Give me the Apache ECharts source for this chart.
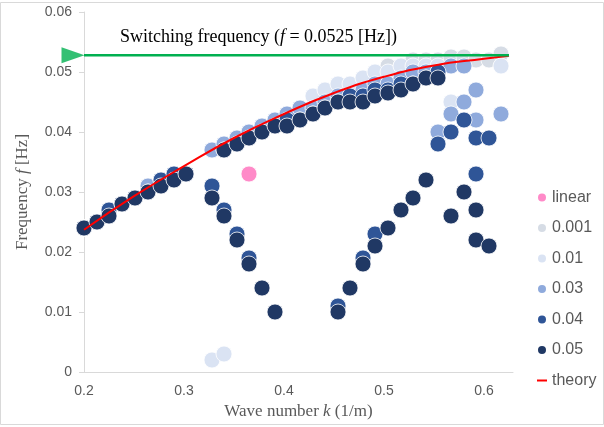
<!DOCTYPE html>
<html>
<head>
<meta charset="utf-8">
<script src="https://cdn.jsdelivr.net/npm/echarts@6/dist/echarts.min.js"></script>
<style>
  html, body { margin: 0; padding: 0; background: #fff; }
  #chart { width: 604px; height: 427px; }
</style>
</head>
<body>
<div id="chart"></div>
<script>
// [k (1/m), f (Hz)]
const linearPts = [[0.365, 0.033]];

const pts0001 = [
  [0.200, 0.024], [0.213, 0.025], [0.225, 0.026], [0.238, 0.028], [0.251, 0.029], [0.264, 0.031],
  [0.277, 0.032], [0.290, 0.033], [0.302, 0.033], [0.328, 0.037], [0.340, 0.038], [0.353, 0.039],
  [0.365, 0.040], [0.378, 0.041], [0.391, 0.042], [0.403, 0.043], [0.416, 0.044], [0.429, 0.046],
  [0.441, 0.047], [0.454, 0.048], [0.466, 0.048], [0.479, 0.049], [0.491, 0.050], [0.504, 0.051],
  [0.517, 0.051], [0.529, 0.052], [0.542, 0.052], [0.554, 0.052], [0.567, 0.0525], [0.580, 0.0525],
  [0.592, 0.052], [0.605, 0.052], [0.617, 0.053]
];

const pts001 = [
  [0.200, 0.024], [0.213, 0.025], [0.225, 0.026], [0.238, 0.028], [0.251, 0.029], [0.264, 0.031],
  [0.277, 0.032], [0.290, 0.033], [0.302, 0.033], [0.328, 0.037], [0.340, 0.038], [0.353, 0.039],
  [0.365, 0.040], [0.378, 0.041], [0.391, 0.042], [0.403, 0.043], [0.416, 0.044], [0.429, 0.046],
  [0.441, 0.047], [0.454, 0.048], [0.466, 0.048], [0.479, 0.049], [0.491, 0.050], [0.504, 0.050],
  [0.517, 0.051], [0.529, 0.051], [0.542, 0.051], [0.554, 0.051], [0.617, 0.051],
  [0.328, 0.002], [0.340, 0.003], [0.567, 0.045]
];

const pts003 = [
  [0.200, 0.024], [0.213, 0.025], [0.225, 0.026], [0.238, 0.028], [0.251, 0.029], [0.264, 0.031],
  [0.277, 0.032], [0.290, 0.033], [0.302, 0.033], [0.328, 0.037], [0.340, 0.038], [0.353, 0.039],
  [0.365, 0.040], [0.378, 0.041], [0.391, 0.042], [0.403, 0.043], [0.416, 0.044], [0.429, 0.044],
  [0.441, 0.045], [0.454, 0.046], [0.466, 0.046], [0.479, 0.047], [0.491, 0.048], [0.504, 0.048],
  [0.517, 0.049], [0.529, 0.050], [0.542, 0.050], [0.554, 0.050], [0.567, 0.051], [0.580, 0.051],
  [0.554, 0.040], [0.567, 0.043], [0.580, 0.045], [0.592, 0.047], [0.592, 0.042], [0.617, 0.043]
];

const pts004 = [
  [0.200, 0.024], [0.213, 0.025], [0.225, 0.027], [0.238, 0.028], [0.251, 0.029], [0.264, 0.030],
  [0.277, 0.032], [0.290, 0.033], [0.302, 0.033], [0.340, 0.037], [0.353, 0.038], [0.365, 0.039],
  [0.378, 0.040], [0.391, 0.041], [0.403, 0.042], [0.416, 0.042], [0.429, 0.043], [0.441, 0.044],
  [0.454, 0.045], [0.466, 0.046], [0.479, 0.046], [0.491, 0.047], [0.504, 0.047], [0.517, 0.048],
  [0.529, 0.048], [0.542, 0.049], [0.554, 0.050],
  [0.328, 0.031], [0.340, 0.027], [0.353, 0.023], [0.365, 0.019],
  [0.454, 0.011], [0.479, 0.019], [0.491, 0.023],
  [0.554, 0.038], [0.567, 0.040], [0.580, 0.042], [0.592, 0.039], [0.605, 0.039], [0.592, 0.033]
];

const pts005 = [
  [0.200, 0.024], [0.213, 0.025], [0.225, 0.026], [0.238, 0.028], [0.251, 0.029], [0.264, 0.030],
  [0.277, 0.031], [0.290, 0.032], [0.302, 0.033], [0.340, 0.037], [0.353, 0.038], [0.365, 0.039],
  [0.378, 0.040], [0.391, 0.041], [0.403, 0.041], [0.416, 0.042], [0.429, 0.043], [0.441, 0.044],
  [0.454, 0.045], [0.466, 0.045], [0.479, 0.045], [0.491, 0.046], [0.504, 0.0465], [0.517, 0.047],
  [0.529, 0.048], [0.542, 0.049], [0.554, 0.049],
  [0.328, 0.029], [0.340, 0.026], [0.353, 0.022], [0.365, 0.018], [0.378, 0.014], [0.391, 0.010],
  [0.454, 0.010], [0.466, 0.014], [0.479, 0.018], [0.491, 0.021], [0.504, 0.024], [0.517, 0.027],
  [0.529, 0.029], [0.542, 0.032],
  [0.567, 0.026], [0.580, 0.030], [0.592, 0.027], [0.592, 0.022], [0.605, 0.021]
];

const theoryK = [0.200, 0.250, 0.300, 0.350, 0.400, 0.450, 0.500, 0.550, 0.600, 0.625];
const theoryF = [0.0237, 0.0293, 0.0343, 0.0390, 0.0430, 0.0465, 0.0492, 0.0511, 0.0522, 0.0527];

const switchK = [0.200, 0.625];
const switchF = 0.0528;

const yTicks = { min: 0, max: 0.06, step: 0.01 };
const xTicks = { min: 0.2, max: 0.629, step: 0.1 };

const gray = '#595959';
const sans = 'Liberation Sans';
const serif = 'Liberation Serif';

function dots(name, data, color) {
  return {
    name: name,
    type: 'scatter',
    data: data,
    symbol: 'circle',
    symbolSize: 16,
    itemStyle: { color: color, opacity: 1, borderColor: '#fff', borderWidth: 0.8 },
    emphasis: { disabled: true },
    z: 2
  };
}

const chart = echarts.init(document.getElementById('chart'));
chart.setOption({
  animation: false,
  grid: { left: 84, right: 91, top: 12, bottom: 55 },
  xAxis: {
    type: 'value',
    min: xTicks.min, max: xTicks.max, interval: xTicks.step,
    name: '{n|Wave number }{i|k}{n| (1/m)}',
    nameLocation: 'middle',
    nameGap: 28,
    nameTextStyle: {
      rich: {
        n: { fontFamily: serif, fontSize: 17, color: gray },
        i: { fontFamily: serif, fontSize: 17, color: gray, fontStyle: 'italic' }
      }
    },
    axisLine: { lineStyle: { color: '#d9d9d9', width: 1 } },
    axisTick: { show: false },
    splitLine: { show: false },
    axisLabel: { color: gray, fontFamily: sans, fontSize: 14, margin: 12, showMaxLabel: false,
      formatter: v => String(Math.round(v * 10) / 10) }
  },
  yAxis: {
    type: 'value',
    min: yTicks.min, max: yTicks.max, interval: yTicks.step,
    name: '{n|Frequency }{i|f}{n| [Hz]}',
    nameLocation: 'middle',
    nameGap: 53,
    nameTextStyle: {
      rich: {
        n: { fontFamily: serif, fontSize: 17, color: gray },
        i: { fontFamily: serif, fontSize: 17, color: gray, fontStyle: 'italic' }
      }
    },
    axisLine: { show: true, lineStyle: { color: '#d9d9d9', width: 1 } },
    axisTick: { show: true, length: 5, lineStyle: { color: '#d9d9d9' } },
    splitLine: { show: false },
    axisLabel: { color: gray, fontFamily: sans, fontSize: 14, margin: 12,
      formatter: v => String(Math.round(v * 100) / 100) }
  },
  legend: {
    orient: 'vertical',
    left: 531,
    top: 184.5,
    itemWidth: 10,
    itemHeight: 10,
    itemGap: 14.5,
    textStyle: { color: gray, fontFamily: sans, fontSize: 16, lineHeight: 16 },
    data: [
      { name: 'linear', icon: 'circle' },
      { name: '0.001', icon: 'circle' },
      { name: '0.01', icon: 'circle' },
      { name: '0.03', icon: 'circle' },
      { name: '0.04', icon: 'circle' },
      { name: '0.05', icon: 'circle' },
      { name: 'theory', icon: 'path://M0,0 H10 V2 H0 Z' }
    ]
  },
  graphic: [
    {
      type: 'rect', silent: true,
      shape: { x: 0.5, y: 2.5, width: 603, height: 422 },
      style: { fill: null, stroke: '#d9d9d9', lineWidth: 1 }
    },
    {
      type: 'text', left: 120, top: 28, silent: true,
      style: {
        text: '{n|Switching frequency (}{i|f}{n| = 0.0525 [Hz])}',
        rich: {
          n: { fontFamily: serif, fontSize: 18, fill: '#000' },
          i: { fontFamily: serif, fontSize: 18, fill: '#000', fontStyle: 'italic' }
        }
      }
    }
  ],
  series: [
    dots('linear', linearPts, '#FF8AC8'),
    dots('0.001', pts0001, '#D6DCE5'),
    dots('0.01', pts001, '#DAE3F3'),
    dots('0.03', pts003, '#8FAADC'),
    dots('0.04', pts004, '#2F5597'),
    dots('0.05', pts005, '#203864'),
    {
      name: 'theory',
      type: 'line',
      data: theoryK.map((k, i) => [k, theoryF[i]]),
      smooth: true,
      symbol: 'none',
      lineStyle: { color: '#FF0000', width: 2 },
      itemStyle: { color: '#FF0000' },
      z: 4
    },
    {
      name: 'switching',
      type: 'line',
      data: switchK.map(k => [k, switchF]),
      symbol: 'none',
      lineStyle: { color: '#00B050', width: 2.5 },
      z: 5
    },
    {
      name: 'switchingArrow',
      type: 'scatter',
      data: [[switchK[0], switchF]],
      symbol: 'triangle',
      symbolSize: [16, 23],
      symbolRotate: -90,
      symbolOffset: [-11, 0],
      clip: false,
      itemStyle: { color: '#00B050' },
      z: 5
    }
  ]
});
</script>
</body>
</html>
